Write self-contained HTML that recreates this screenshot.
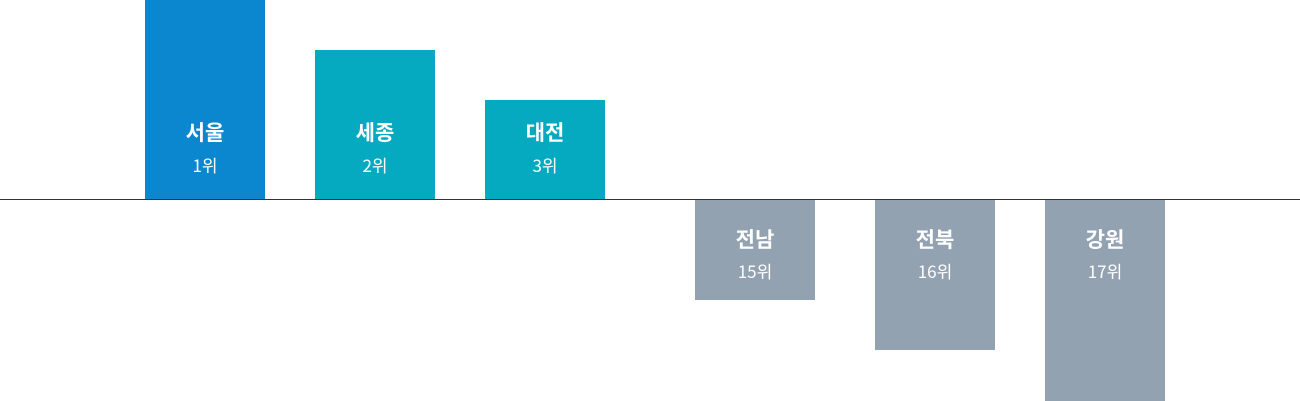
<!DOCTYPE html>
<html><head><meta charset="utf-8"><style>
html,body{margin:0;padding:0;background:#fff;}
body{width:1300px;height:401px;position:relative;overflow:hidden;font-family:"Noto Sans CJK KR","Liberation Sans",sans-serif;color:#fff;}
.b{position:absolute;width:120px;}
.n{position:absolute;left:0;width:120px;text-align:center;font-weight:bold;font-size:21px;line-height:22px;}
.r{position:absolute;left:0;width:120px;text-align:center;font-size:17px;line-height:20px;}
.line{position:absolute;left:0;top:199px;width:1300px;height:1px;background:#333;}
</style></head><body>
<div class="b" style="left:145px;top:0;height:200px;background:#0a87cf"><div class="n" style="top:121px">서울</div><div class="r" style="top:155px">1위</div></div>
<div class="b" style="left:315px;top:50px;height:150px;background:#05aac1"><div class="n" style="top:71px">세종</div><div class="r" style="top:105px">2위</div></div>
<div class="b" style="left:485px;top:100px;height:100px;background:#05aac1"><div class="n" style="top:21px">대전</div><div class="r" style="top:55px">3위</div></div>
<div class="b" style="left:695px;top:200px;height:100px;background:#93a2b1"><div class="n" style="top:28px">전남</div><div class="r" style="top:61px">15위</div></div>
<div class="b" style="left:875px;top:200px;height:150px;background:#93a2b1"><div class="n" style="top:28px">전북</div><div class="r" style="top:61px">16위</div></div>
<div class="b" style="left:1045px;top:200px;height:201px;background:#93a2b1"><div class="n" style="top:28px">강원</div><div class="r" style="top:61px">17위</div></div>
<div class="line"></div>
</body></html>
